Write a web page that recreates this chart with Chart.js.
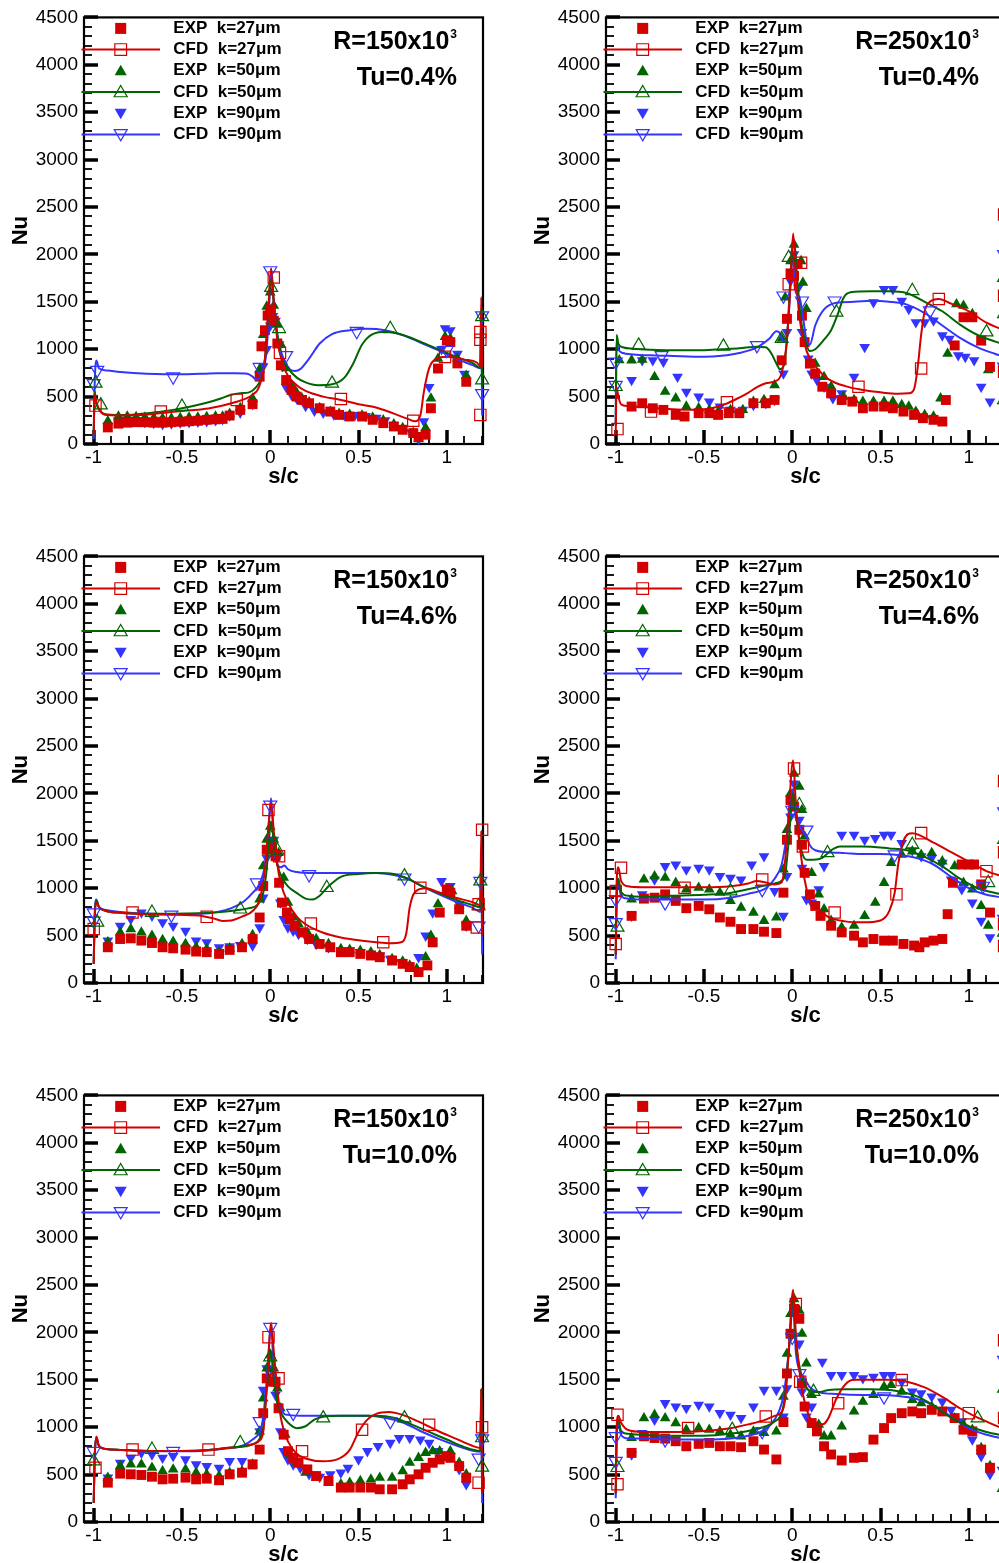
<!DOCTYPE html>
<html>
<head>
<meta charset="utf-8">
<script src="https://cdn.jsdelivr.net/npm/chart.js@4/dist/chart.umd.min.js"></script>
<style>
html,body{margin:0;padding:0;background:#fff;width:999px;height:1563px;overflow:hidden;position:relative;}
canvas{position:absolute;}
</style>
</head>
<body>
<canvas id="c1" width="500" height="490" style="left:0px;top:0px"></canvas>
<canvas id="c2" width="500" height="490" style="left:522px;top:0px"></canvas>
<canvas id="c3" width="500" height="490" style="left:0px;top:539px"></canvas>
<canvas id="c4" width="500" height="490" style="left:522px;top:539px"></canvas>
<canvas id="c5" width="500" height="490" style="left:0px;top:1078px"></canvas>
<canvas id="c6" width="500" height="490" style="left:522px;top:1078px"></canvas>
<script>
// ---------- tick labels / panel labels ----------
const xMajor = [-1, -0.5, 0, 0.5, 1];
const yMajor = [0, 500, 1000, 1500, 2000, 2500, 3000, 3500, 4000, 4500];
const panelR  = ['150', '250', '150', '250', '150', '250'];
const panelTu = ['0.4%', '0.4%', '4.6%', '4.6%', '10.0%', '10.0%'];
const seriesNames = ['EXP  k=27\u03bcm','CFD  k=27\u03bcm','EXP  k=50\u03bcm','CFD  k=50\u03bcm','EXP  k=90\u03bcm','CFD  k=90\u03bcm'];

// ---------- Panel 1: R=150x10^3, Tu=0.4% ----------
const P1_exp27 = [[-0.92,175],[-0.86,215],[-0.81,225],[-0.76,230],[-0.71,230],[-0.66,225],[-0.61,225],[-0.56,230],[-0.51,235],[-0.46,240],[-0.41,245],[-0.36,255],[-0.31,260],[-0.27,265],[-0.23,300],[-0.17,360],[-0.1,420],[-0.06,710],[-0.05,1030],[-0.03,1200],[-0.015,1355],[0.0,1420],[0.02,1300],[0.04,1060],[0.06,830],[0.09,675],[0.12,570],[0.15,500],[0.18,465],[0.22,430],[0.28,377],[0.34,342],[0.39,307],[0.45,290],[0.52,290],[0.58,255],[0.64,220],[0.7,185],[0.75,150],[0.81,115],[0.84,75],[0.88,98],[0.91,377],[0.95,796],[1.0,1092],[1.02,1075],[1.06,850],[1.11,656]];
const P1_exp50 = [[-0.92,240],[-0.86,290],[-0.81,290],[-0.76,285],[-0.71,280],[-0.66,275],[-0.61,270],[-0.56,270],[-0.51,275],[-0.46,280],[-0.41,280],[-0.36,285],[-0.31,290],[-0.27,290],[-0.23,320],[-0.17,380],[-0.1,480],[-0.06,790],[-0.04,1150],[-0.02,1450],[0.0,1600],[0.02,1460],[0.04,1260],[0.06,1050],[0.09,800],[0.12,620],[0.15,540],[0.18,480],[0.22,440],[0.28,380],[0.34,340],[0.39,320],[0.45,310],[0.52,300],[0.58,280],[0.64,250],[0.7,210],[0.75,170],[0.81,120],[0.84,50],[0.88,170],[0.91,480],[0.95,900],[0.99,1130],[1.02,1110],[1.06,900],[1.11,720]];
const P1_exp90 = [[-0.92,190],[-0.86,250],[-0.81,255],[-0.76,245],[-0.71,230],[-0.66,220],[-0.61,210],[-0.56,215],[-0.51,225],[-0.46,230],[-0.41,235],[-0.36,240],[-0.31,250],[-0.27,260],[-0.23,300],[-0.17,330],[-0.1,420],[-0.06,730],[-0.04,820],[-0.02,1000],[0.0,1250],[0.015,1350],[0.03,1300],[0.05,1050],[0.07,820],[0.09,600],[0.12,520],[0.15,480],[0.2,400],[0.25,350],[0.3,330],[0.36,310],[0.42,305],[0.48,305],[0.54,295],[0.6,275],[0.65,250],[0.7,200],[0.75,165],[0.8,120],[0.84,50],[0.87,240],[0.9,600],[0.97,1000],[0.99,1220],[1.02,1200],[1.06,950],[1.1,740]];
const P1_cfd27 = [[-1.0,100],[-0.995,520],[-0.985,440],[-0.96,340],[-0.92,305],[-0.85,300],[-0.75,305],[-0.65,320],[-0.55,340],[-0.45,355],[-0.35,375],[-0.28,400],[-0.2,440],[-0.15,470],[-0.1,520],[-0.06,620],[-0.03,900],[-0.012,1400],[0.005,1850],[0.02,1500],[0.04,1100],[0.07,850],[0.1,720],[0.15,620],[0.2,560],[0.3,500],[0.4,465],[0.5,420],[0.6,385],[0.7,320],[0.78,265],[0.82,240],[0.85,300],[0.87,550],[0.9,800],[0.94,900],[1.0,920],[1.1,890],[1.17,860],[1.19,820],[1.195,1550],[1.2,800]];
const P1_cfd50 = [[-1.0,100],[-0.995,560],[-0.985,430],[-0.96,340],[-0.92,310],[-0.85,305],[-0.75,315],[-0.65,335],[-0.55,360],[-0.45,395],[-0.35,440],[-0.28,480],[-0.22,520],[-0.17,535],[-0.12,545],[-0.08,600],[-0.05,700],[-0.03,900],[-0.012,1350],[0.005,1750],[0.02,1500],[0.04,1150],[0.07,900],[0.1,800],[0.15,700],[0.2,650],[0.27,620],[0.35,630],[0.42,700],[0.47,850],[0.52,1050],[0.58,1160],[0.66,1185],[0.75,1150],[0.85,1080],[0.95,1000],[1.05,920],[1.15,850],[1.19,800],[1.195,1400],[1.2,600]];
const P1_cfd90 = [[-1.0,50],[-0.995,600],[-0.985,880],[-0.97,800],[-0.92,775],[-0.85,760],[-0.7,740],[-0.6,735],[-0.5,735],[-0.4,740],[-0.3,745],[-0.2,745],[-0.13,740],[-0.1,710],[-0.08,680],[-0.06,690],[-0.04,780],[-0.02,1000],[-0.008,1400],[0.005,1850],[0.015,1600],[0.03,1300],[0.05,1050],[0.08,880],[0.11,790],[0.14,770],[0.17,790],[0.22,900],[0.28,1060],[0.35,1160],[0.45,1200],[0.55,1215],[0.65,1200],[0.75,1150],[0.85,1070],[0.95,990],[1.05,900],[1.15,830],[1.19,800],[1.195,1400],[1.2,300]];
const P1_mk27 = [[-0.99,405],[-0.62,342],[-0.19,465],[0.02,1757],[0.055,960],[0.4,475],[0.81,245],[0.99,919],[1.19,1181],[1.19,1100],[1.19,307]];
const P1_mk50 = [[-0.99,640],[-0.96,410],[-0.5,395],[0.005,1650],[0.05,1215],[0.35,640],[0.68,1215],[1.2,1340],[1.2,674]];
const P1_mk90 = [[-1.0,640],[-0.98,780],[-0.55,710],[-0.06,810],[0.0,1830],[0.09,935],[0.49,1190],[1.0,990],[1.2,1355],[1.2,535]];

// ---------- Panel 2: R=250x10^3, Tu=0.4% ----------
const P2_exp27 = [[-0.91,395],[-0.85,430],[-0.79,377],[-0.73,360],[-0.66,307],[-0.61,290],[-0.53,325],[-0.47,325],[-0.42,307],[-0.36,325],[-0.3,325],[-0.22,430],[-0.15,430],[-0.1,465],[-0.06,883],[-0.03,1320],[-0.01,1800],[0.01,1773],[0.03,1900],[0.055,1354],[0.07,1075],[0.1,848],[0.13,743],[0.17,604],[0.22,534],[0.28,464],[0.34,447],[0.4,377],[0.46,395],[0.52,395],[0.57,377],[0.63,342],[0.69,307],[0.74,272],[0.8,255],[0.85,237],[0.87,464],[0.92,1040],[0.97,1337],[1.02,1337],[1.07,1092],[1.12,813]];
const P2_exp50 = [[-0.98,884],[-0.91,883],[-0.85,890],[-0.78,708],[-0.72,551],[-0.66,482],[-0.6,395],[-0.53,377],[-0.47,360],[-0.42,342],[-0.35,360],[-0.28,360],[-0.22,447],[-0.16,464],[-0.1,621],[-0.06,1110],[-0.04,1546],[-0.01,1930],[0.01,2104],[0.05,1930],[0.06,1703],[0.08,1424],[0.13,848],[0.18,708],[0.22,604],[0.29,499],[0.35,464],[0.4,447],[0.46,447],[0.52,447],[0.57,447],[0.62,412],[0.66,395],[0.7,342],[0.75,307],[0.8,290],[0.84,482],[0.88,953],[0.93,1476],[0.97,1459],[1.02,1372],[1.07,1075],[1.11,778]];
const P2_exp90 = [[-0.91,674],[-0.85,883],[-0.79,883],[-0.73,866],[-0.65,708],[-0.6,551],[-0.53,499],[-0.47,447],[-0.41,395],[-0.35,360],[-0.28,360],[-0.22,412],[-0.15,430],[-0.1,464],[-0.05,743],[-0.03,1180],[-0.01,1720],[0.01,2000],[0.035,1650],[0.055,1180],[0.09,900],[0.11,743],[0.14,674],[0.18,604],[0.23,482],[0.28,534],[0.35,708],[0.41,1023],[0.46,1494],[0.52,1633],[0.57,1633],[0.62,1511],[0.66,1424],[0.7,1284],[0.75,1284],[0.8,1302],[0.85,1145],[0.89,1110],[0.94,935],[0.98,918],[1.03,883],[1.07,604],[1.12,447]];
const P2_cfd27 = [[-1.0,100],[-0.995,600],[-0.985,500],[-0.97,420],[-0.93,400],[-0.85,390],[-0.7,370],[-0.55,360],[-0.45,380],[-0.38,420],[-0.3,490],[-0.25,540],[-0.2,600],[-0.15,640],[-0.1,660],[-0.06,750],[-0.03,1100],[-0.01,1700],[0.005,2220],[0.02,1800],[0.04,1350],[0.07,1050],[0.1,900],[0.15,780],[0.2,690],[0.3,610],[0.4,570],[0.5,545],[0.6,530],[0.66,535],[0.69,580],[0.71,800],[0.73,1150],[0.75,1400],[0.78,1500],[0.83,1530],[0.9,1480],[1.0,1400],[1.1,1280],[1.2,1200]];
const P2_cfd50 = [[-1.0,200],[-0.995,1150],[-0.985,1060],[-0.96,1020],[-0.9,1005],[-0.8,995],[-0.7,990],[-0.5,990],[-0.4,1000],[-0.3,1010],[-0.2,1025],[-0.15,1020],[-0.12,960],[-0.09,850],[-0.07,790],[-0.05,820],[-0.03,1100],[-0.015,1600],[0.0,2050],[0.01,2150],[0.03,1700],[0.05,1300],[0.08,1050],[0.1,980],[0.13,1000],[0.18,1100],[0.22,1200],[0.26,1380],[0.29,1540],[0.33,1600],[0.45,1610],[0.55,1610],[0.65,1590],[0.75,1500],[0.85,1400],[0.95,1260],[1.05,1150],[1.15,1080],[1.2,1050]];
const P2_cfd90 = [[-1.0,200],[-0.995,1100],[-0.985,1000],[-0.96,960],[-0.9,945],[-0.8,935],[-0.7,930],[-0.5,920],[-0.4,930],[-0.3,960],[-0.2,1020],[-0.13,1110],[-0.09,1190],[-0.07,1170],[-0.05,1080],[-0.03,1150],[-0.015,1500],[0.0,2000],[0.02,1600],[0.04,1550],[0.06,1350],[0.08,1100],[0.1,1050],[0.13,1250],[0.18,1420],[0.25,1490],[0.35,1500],[0.45,1510],[0.55,1500],[0.65,1470],[0.75,1380],[0.85,1250],[0.95,1120],[1.05,1020],[1.15,950],[1.2,920]];
const P2_mk27 = [[-0.99,157],[-0.8,342],[-0.37,440],[-0.02,1686],[0.05,1912],[0.375,604],[0.73,796],[0.83,1529],[1.2,2421],[1.2,1565],[1.2,761]];
const P2_mk50 = [[-1.0,604],[-0.87,1040],[-0.39,1030],[-0.06,1110],[-0.02,1965],[0.25,1389],[0.68,1616],[1.1,1180],[1.2,1755],[1.2,1372],[1.2,464]];
const P2_mk90 = [[-1.0,866],[-1.0,621],[-0.74,935],[-0.2,1040],[-0.05,1564],[0.055,1511],[0.24,1511],[0.78,1406],[1.2,2000],[1.2,813]];

// ---------- Panel 3: R=150x10^3, Tu=4.6% ----------
const P3_exp27 = [[-0.92,377],[-0.85,464],[-0.79,471],[-0.73,447],[-0.67,422],[-0.61,377],[-0.55,366],[-0.48,352],[-0.42,332],[-0.36,325],[-0.29,307],[-0.23,349],[-0.16,377],[-0.1,464],[-0.06,691],[-0.04,1023],[-0.02,1406],[0.01,1424],[0.03,1337],[0.05,1057],[0.066,848],[0.094,743],[0.11,674],[0.14,604],[0.18,534],[0.22,464],[0.28,412],[0.34,377],[0.4,325],[0.45,325],[0.51,307],[0.57,290],[0.62,272],[0.69,237],[0.75,202],[0.79,168],[0.84,115],[0.89,185],[0.92,429],[0.96,743],[1.0,988],[1.02,953],[1.07,778],[1.11,604]];
const P3_exp50 = [[-0.92,430],[-0.85,534],[-0.79,569],[-0.73,534],[-0.67,499],[-0.61,454],[-0.55,436],[-0.48,412],[-0.42,377],[-0.36,360],[-0.29,325],[-0.23,366],[-0.16,412],[-0.1,506],[-0.06,883],[-0.04,1232],[-0.02,1511],[0.0,1650],[0.02,1511],[0.047,1372],[0.076,1110],[0.1,848],[0.13,691],[0.16,621],[0.21,534],[0.26,464],[0.33,412],[0.4,360],[0.45,352],[0.51,342],[0.57,325],[0.62,297],[0.69,255],[0.75,227],[0.79,185],[0.83,150],[0.88,272],[0.91,499],[0.95,831],[1.0,988],[1.03,970],[1.07,813],[1.11,656]];
const P3_exp90 = [[-0.92,447],[-0.85,604],[-0.79,674],[-0.73,743],[-0.67,708],[-0.61,639],[-0.55,604],[-0.48,551],[-0.42,447],[-0.36,430],[-0.29,377],[-0.23,387],[-0.17,401],[-0.1,395],[-0.06,586],[-0.04,900],[-0.02,1320],[0.0,1511],[0.02,1511],[0.04,1320],[0.057,848],[0.076,674],[0.1,586],[0.13,551],[0.16,517],[0.21,464],[0.26,412],[0.33,377],[0.4,342],[0.45,342],[0.51,325],[0.57,307],[0.62,290],[0.68,255],[0.74,220],[0.78,185],[0.84,272],[0.88,499],[0.92,743],[0.97,1075],[1.02,1023],[1.07,831],[1.11,604]];
const P3_cfd27 = [[-1.0,200],[-0.995,650],[-0.985,850],[-0.97,800],[-0.93,760],[-0.85,740],[-0.7,725],[-0.55,720],[-0.45,715],[-0.38,705],[-0.32,680],[-0.27,655],[-0.22,660],[-0.16,700],[-0.1,760],[-0.06,880],[-0.03,1200],[-0.012,1600],[0.005,1900],[0.02,1600],[0.04,1250],[0.06,1050],[0.1,850],[0.15,700],[0.2,620],[0.3,530],[0.4,480],[0.5,450],[0.6,430],[0.68,420],[0.74,430],[0.77,520],[0.79,800],[0.82,960],[0.88,1000],[0.95,960],[1.05,900],[1.15,850],[1.19,820],[1.195,1600],[1.2,500]];
const P3_cfd50 = [[-1.0,200],[-0.995,650],[-0.985,870],[-0.97,800],[-0.93,760],[-0.85,740],[-0.7,730],[-0.55,730],[-0.4,735],[-0.3,745],[-0.2,765],[-0.12,790],[-0.07,830],[-0.04,950],[-0.02,1200],[-0.008,1500],[0.005,1700],[0.02,1500],[0.04,1250],[0.07,1100],[0.1,1020],[0.15,950],[0.2,890],[0.24,880],[0.28,920],[0.33,1020],[0.4,1120],[0.5,1150],[0.6,1160],[0.7,1150],[0.78,1100],[0.85,1030],[0.95,950],[1.05,880],[1.15,820],[1.19,800],[1.195,1350],[1.2,500]];
const P3_cfd90 = [[-1.0,200],[-0.995,700],[-0.985,880],[-0.97,800],[-0.93,770],[-0.85,750],[-0.7,730],[-0.55,725],[-0.4,730],[-0.3,750],[-0.22,790],[-0.15,860],[-0.1,950],[-0.06,1050],[-0.03,1250],[-0.012,1600],[0.005,1950],[0.02,1450],[0.04,1250],[0.06,1220],[0.08,1240],[0.1,1200],[0.15,1170],[0.25,1160],[0.4,1160],[0.5,1160],[0.6,1160],[0.7,1140],[0.78,1100],[0.85,1030],[0.95,940],[1.05,860],[1.15,790],[1.19,750],[1.195,1400],[1.2,300]];
const P3_mk27 = [[-1.0,569],[-0.78,743],[-0.36,698],[-0.01,1825],[0.05,1337],[0.23,628],[0.64,430],[0.85,1005],[1.18,831],[1.2,1616],[1.17,586]];
const P3_mk50 = [[-0.98,639],[-0.67,743],[-0.17,778],[0.0,1546],[0.04,1400],[0.32,1005],[0.76,1127],[1.19,1075],[1.18,813]];
const P3_mk90 = [[-1.0,656],[-1.0,743],[-0.56,719],[-0.076,1058],[0.0,1878],[0.22,1145],[0.76,1110],[1.19,1075],[1.18,604]];

// ---------- Panel 4: R=250x10^3, Tu=4.6% ----------
const P4_exp27 = [[-0.91,708],[-0.84,890],[-0.78,900],[-0.72,935],[-0.66,866],[-0.6,789],[-0.53,813],[-0.47,778],[-0.41,691],[-0.35,646],[-0.29,569],[-0.22,569],[-0.16,541],[-0.09,527],[-0.05,953],[-0.03,1511],[-0.01,1930],[0.01,1860],[0.04,1616],[0.055,1459],[0.07,1162],[0.1,935],[0.13,813],[0.16,708],[0.22,604],[0.28,534],[0.35,499],[0.4,429],[0.46,464],[0.52,447],[0.57,447],[0.63,412],[0.69,395],[0.72,377],[0.75,429],[0.8,447],[0.85,464],[0.88,726],[0.91,1057],[0.96,1250],[1.0,1250],[1.03,1250],[1.07,1040],[1.12,743]];
const P4_exp50 = [[-0.91,883],[-0.84,1092],[-0.78,1127],[-0.72,1110],[-0.66,1057],[-0.6,988],[-0.53,1005],[-0.47,988],[-0.41,953],[-0.35,866],[-0.29,796],[-0.22,743],[-0.16,656],[-0.09,691],[-0.05,1197],[-0.03,1616],[-0.01,2000],[0.01,2209],[0.04,2070],[0.055,1825],[0.07,1546],[0.11,1162],[0.15,935],[0.18,778],[0.22,656],[0.28,586],[0.35,604],[0.41,708],[0.47,848],[0.52,1057],[0.56,1267],[0.62,1354],[0.68,1389],[0.73,1354],[0.79,1372],[0.85,1284],[0.92,1232],[0.97,1057],[1.02,988],[1.07,813],[1.11,604]];
const P4_exp90 = [[-0.91,708],[-0.85,935],[-0.78,1092],[-0.72,1232],[-0.66,1250],[-0.6,1197],[-0.53,1215],[-0.47,1197],[-0.41,1127],[-0.35,1110],[-0.29,1092],[-0.23,1250],[-0.16,1337],[-0.1,970],[-0.05,708],[-0.03,1127],[-0.01,1755],[0.01,2104],[0.04,1720],[0.055,1215],[0.08,883],[0.11,848],[0.15,988],[0.18,1232],[0.28,1564],[0.35,1564],[0.41,1511],[0.47,1529],[0.52,1564],[0.56,1564],[0.62,1476],[0.68,1400],[0.73,1337],[0.79,1320],[0.85,1267],[0.9,1092],[0.96,988],[1.02,848],[1.07,656],[1.12,482]];
const P4_cfd27 = [[-1.0,300],[-0.995,1050],[-0.985,1220],[-0.97,1080],[-0.93,1020],[-0.85,1010],[-0.7,1010],[-0.5,1010],[-0.35,1020],[-0.25,1050],[-0.2,1075],[-0.15,1060],[-0.1,1040],[-0.06,1060],[-0.04,1300],[-0.02,1800],[0.005,2350],[0.02,1900],[0.04,1500],[0.06,1200],[0.08,1000],[0.1,880],[0.15,780],[0.2,700],[0.3,650],[0.4,640],[0.5,660],[0.55,760],[0.58,950],[0.6,1250],[0.63,1500],[0.68,1580],[0.8,1480],[0.9,1380],[1.0,1280],[1.1,1180],[1.2,1120]];
const P4_cfd50 = [[-1.0,300],[-0.995,900],[-0.985,1100],[-0.97,960],[-0.93,920],[-0.85,910],[-0.7,920],[-0.5,930],[-0.35,950],[-0.25,990],[-0.15,1030],[-0.1,1050],[-0.06,1080],[-0.04,1150],[-0.02,1500],[0.005,2000],[0.02,1800],[0.04,1500],[0.06,1350],[0.08,1300],[0.12,1300],[0.17,1320],[0.22,1400],[0.27,1440],[0.4,1440],[0.55,1420],[0.65,1400],[0.75,1330],[0.85,1230],[0.95,1100],[1.05,1000],[1.15,950],[1.2,930]];
const P4_cfd90 = [[-1.0,250],[-0.995,850],[-0.985,1050],[-0.97,920],[-0.93,890],[-0.85,880],[-0.7,880],[-0.5,880],[-0.35,900],[-0.25,940],[-0.15,1000],[-0.1,1100],[-0.06,1250],[-0.04,1450],[-0.02,1700],[0.005,2050],[0.02,1750],[0.04,1650],[0.06,1600],[0.08,1550],[0.1,1450],[0.13,1400],[0.2,1380],[0.3,1370],[0.4,1360],[0.5,1360],[0.6,1350],[0.7,1320],[0.8,1250],[0.9,1120],[1.0,1000],[1.1,930],[1.2,900]];
const P4_mk27 = [[-1.0,412],[-1.0,970],[-0.97,1215],[-0.61,1005],[-0.17,1092],[0.01,2262],[0.06,1441],[0.24,743],[0.59,935],[0.73,1581],[1.1,1180],[1.2,2130],[1.2,1380],[1.2,620],[1.2,390]];
const P4_mk50 = [[-0.99,586],[-0.35,970],[0.04,1877],[0.2,1372],[0.68,1459],[1.11,1057],[1.2,1511],[1.2,534]];
const P4_mk90 = [[-1.0,883],[-1.0,639],[-0.72,848],[-0.17,988],[0.0,1825],[0.08,1616],[0.58,1354],[1.08,1023],[1.2,1808],[1.2,674]];

// ---------- Panel 5: R=150x10^3, Tu=10.0% ----------
const P5_exp27 = [[-0.92,415],[-0.85,510],[-0.79,503],[-0.73,496],[-0.67,478],[-0.61,450],[-0.55,457],[-0.48,468],[-0.42,450],[-0.36,457],[-0.29,440],[-0.23,503],[-0.16,520],[-0.1,607],[-0.06,764],[-0.04,1148],[-0.02,1515],[0.01,1480],[0.03,1480],[0.047,1200],[0.076,921],[0.1,747],[0.13,677],[0.16,625],[0.21,555],[0.26,485],[0.33,433],[0.4,363],[0.45,363],[0.51,363],[0.57,363],[0.62,345],[0.69,345],[0.75,398],[0.79,450],[0.84,503],[0.88,572],[0.92,625],[0.96,660],[1.0,695],[1.02,677],[1.07,590],[1.11,468]];
const P5_exp50 = [[-0.92,468],[-0.85,590],[-0.79,607],[-0.73,607],[-0.67,572],[-0.61,537],[-0.55,555],[-0.48,555],[-0.42,520],[-0.36,503],[-0.29,485],[-0.23,520],[-0.16,537],[-0.1,607],[-0.06,956],[-0.04,1305],[-0.02,1620],[0.0,1760],[0.02,1620],[0.04,1410],[0.057,1200],[0.085,921],[0.11,712],[0.15,625],[0.2,520],[0.26,468],[0.33,415],[0.4,398],[0.45,415],[0.51,433],[0.57,450],[0.62,468],[0.69,468],[0.75,537],[0.79,625],[0.84,677],[0.88,730],[0.92,747],[0.96,747],[1.02,747],[1.07,625],[1.11,503]];
const P5_exp90 = [[-0.92,468],[-0.85,625],[-0.79,677],[-0.73,730],[-0.67,712],[-0.61,677],[-0.55,695],[-0.48,660],[-0.42,607],[-0.36,590],[-0.29,572],[-0.23,642],[-0.16,642],[-0.1,625],[-0.06,956],[-0.04,1393],[-0.02,1620],[0.01,1602],[0.03,1340],[0.057,956],[0.076,747],[0.1,660],[0.13,607],[0.17,572],[0.22,503],[0.28,475],[0.34,503],[0.4,520],[0.44,572],[0.5,660],[0.55,747],[0.61,800],[0.68,834],[0.73,886],[0.79,886],[0.85,869],[0.9,834],[0.95,747],[1.02,695],[1.07,555],[1.11,398]];
const P5_cfd27 = [[-1.0,200],[-0.995,650],[-0.985,900],[-0.97,800],[-0.93,770],[-0.85,760],[-0.7,750],[-0.5,750],[-0.35,760],[-0.25,780],[-0.15,800],[-0.1,820],[-0.06,860],[-0.04,950],[-0.02,1400],[0.005,2100],[0.02,1800],[0.04,1400],[0.06,1100],[0.08,950],[0.1,850],[0.15,720],[0.2,670],[0.3,640],[0.38,660],[0.45,760],[0.5,950],[0.55,1080],[0.6,1140],[0.67,1160],[0.75,1130],[0.85,1050],[0.95,960],[1.05,880],[1.15,800],[1.19,780],[1.195,1400],[1.2,300]];
const P5_cfd50 = [[-1.0,200],[-0.995,650],[-0.985,900],[-0.97,800],[-0.93,770],[-0.85,760],[-0.7,750],[-0.5,750],[-0.35,760],[-0.25,780],[-0.15,800],[-0.1,820],[-0.06,880],[-0.04,1000],[-0.02,1400],[0.005,1750],[0.02,1500],[0.04,1250],[0.06,1150],[0.1,1050],[0.15,990],[0.2,1010],[0.25,1080],[0.3,1110],[0.4,1120],[0.5,1120],[0.6,1120],[0.7,1100],[0.8,1030],[0.9,950],[1.0,870],[1.1,790],[1.19,750],[1.195,1400],[1.2,300]];
const P5_cfd90 = [[-1.0,200],[-0.995,650],[-0.985,880],[-0.97,800],[-0.93,770],[-0.85,760],[-0.7,750],[-0.5,745],[-0.35,755],[-0.25,775],[-0.15,810],[-0.1,870],[-0.06,950],[-0.04,1100],[-0.02,1500],[0.005,2050],[0.02,1600],[0.04,1300],[0.06,1200],[0.08,1140],[0.1,1130],[0.2,1120],[0.4,1120],[0.55,1120],[0.65,1100],[0.75,1050],[0.85,960],[0.95,880],[1.05,810],[1.15,750],[1.19,740],[1.195,1300],[1.2,200]];
const P5_mk27 = [[-0.99,572],[-0.78,764],[-0.35,764],[-0.01,1950],[0.047,1515],[0.18,747],[0.52,973],[0.9,1026],[1.2,1000],[1.18,415]];
const P5_mk50 = [[-1.0,642],[-0.67,764],[-0.17,834],[0.0,1740],[0.3,1096],[0.76,1096],[1.2,886],[1.2,576]];
const P5_mk90 = [[-1.0,747],[-0.55,747],[-0.06,1061],[0.0,2055],[0.13,1148],[0.68,1061],[1.18,677],[1.2,880]];

// ---------- Panel 6: R=250x10^3, Tu=10.0% ----------
const P6_exp27 = [[-0.91,729],[-0.84,904],[-0.78,886],[-0.72,880],[-0.66,852],[-0.6,799],[-0.53,824],[-0.47,834],[-0.41,799],[-0.35,799],[-0.29,789],[-0.22,852],[-0.16,764],[-0.09,660],[-0.05,1054],[-0.03,1567],[-0.01,1986],[0.01,2248],[0.04,2143],[0.055,1462],[0.07,1218],[0.11,1044],[0.14,956],[0.18,799],[0.22,712],[0.28,649],[0.35,677],[0.4,684],[0.46,869],[0.52,991],[0.56,1096],[0.62,1148],[0.68,1166],[0.73,1148],[0.79,1183],[0.85,1166],[0.92,1096],[0.97,974],[1.02,956],[1.07,764],[1.12,572]];
const P6_exp50 = [[-0.91,886],[-0.84,1096],[-0.78,1131],[-0.72,1096],[-0.66,1044],[-0.6,974],[-0.53,991],[-0.47,974],[-0.41,956],[-0.35,921],[-0.29,904],[-0.22,956],[-0.16,939],[-0.09,956],[-0.05,1323],[-0.03,1776],[-0.01,2195],[0.01,2352],[0.04,2230],[0.055,1986],[0.08,1672],[0.11,1340],[0.15,1026],[0.18,904],[0.22,904],[0.28,1009],[0.35,1166],[0.4,1270],[0.46,1340],[0.52,1428],[0.56,1445],[0.62,1375],[0.68,1288],[0.73,1253],[0.79,1218],[0.85,1166],[0.92,1096],[0.97,1026],[1.02,974],[1.07,782],[1.12,590]];
const P6_exp90 = [[-0.91,712],[-0.85,939],[-0.78,1078],[-0.72,1253],[-0.66,1218],[-0.6,1201],[-0.53,1235],[-0.47,1218],[-0.41,1148],[-0.35,1131],[-0.29,1096],[-0.22,1218],[-0.16,1393],[-0.09,1393],[-0.05,1113],[-0.03,1410],[-0.01,1951],[0.01,2265],[0.04,1881],[0.055,1375],[0.08,1113],[0.11,1218],[0.17,1689],[0.22,1550],[0.28,1550],[0.35,1550],[0.4,1515],[0.46,1532],[0.52,1550],[0.56,1550],[0.62,1480],[0.68,1375],[0.73,1358],[0.79,1323],[0.85,1270],[0.9,1183],[0.96,1061],[1.02,869],[1.07,694],[1.12,503]];
const P6_cfd27 = [[-1.0,300],[-0.995,1000],[-0.985,1120],[-0.97,1050],[-0.93,970],[-0.85,950],[-0.7,950],[-0.5,960],[-0.35,990],[-0.25,1030],[-0.15,1080],[-0.1,1120],[-0.06,1160],[-0.04,1300],[-0.02,1800],[0.005,2450],[0.02,2000],[0.04,1600],[0.06,1350],[0.08,1200],[0.1,1100],[0.13,1050],[0.17,1030],[0.2,1080],[0.25,1300],[0.3,1450],[0.35,1500],[0.45,1500],[0.55,1500],[0.65,1480],[0.75,1420],[0.85,1320],[0.95,1200],[1.05,1100],[1.15,1020],[1.2,980]];
const P6_cfd50 = [[-1.0,300],[-0.995,900],[-0.985,1080],[-0.97,960],[-0.93,930],[-0.85,920],[-0.7,910],[-0.5,910],[-0.35,930],[-0.25,960],[-0.15,1010],[-0.1,1060],[-0.06,1150],[-0.04,1350],[-0.02,1800],[0.005,2350],[0.02,1900],[0.04,1650],[0.06,1500],[0.08,1420],[0.1,1380],[0.15,1370],[0.2,1390],[0.3,1400],[0.45,1400],[0.6,1380],[0.7,1330],[0.8,1230],[0.9,1100],[1.0,1010],[1.1,950],[1.2,910]];
const P6_cfd90 = [[-1.0,250],[-0.995,850],[-0.985,1050],[-0.97,920],[-0.93,880],[-0.85,880],[-0.7,870],[-0.5,870],[-0.35,880],[-0.25,910],[-0.15,980],[-0.1,1080],[-0.06,1250],[-0.04,1450],[-0.02,1800],[0.005,2280],[0.02,1800],[0.04,1600],[0.06,1540],[0.08,1480],[0.1,1420],[0.15,1370],[0.25,1350],[0.4,1340],[0.5,1340],[0.6,1330],[0.7,1300],[0.8,1230],[0.9,1110],[1.0,990],[1.1,920],[1.2,880]];
const P6_mk27 = [[-0.99,398],[-0.99,1131],[-0.59,991],[-0.15,1113],[0.02,2300],[0.045,1480],[0.26,1253],[0.62,1497],[1.0,1148],[1.2,1916],[1.2,1096]];
const P6_mk50 = [[-0.99,572],[-0.34,974],[0.12,1375],[1.05,1096],[1.2,1410],[1.2,363]];
const P6_mk90 = [[-1.0,904],[-1.0,642],[-0.72,869],[-0.17,956],[0.0,1951],[0.04,1567],[0.52,1323],[1.2,1707],[1.2,537]];

// ---------- styles ----------
const RED = '#d40000', GREEN = '#006400', BLUE = '#3434ff';
const colors = [RED, GREEN, BLUE];
const shapes = ['rect', 'up', 'down'];
const FONT = "'Liberation Sans', Arial, Helvetica, sans-serif";

const panels = [
  {id:'c1', exp:[P1_exp27,P1_exp50,P1_exp90], cfd:[P1_cfd27,P1_cfd50,P1_cfd90], mk:[P1_mk27,P1_mk50,P1_mk90]},
  {id:'c2', exp:[P2_exp27,P2_exp50,P2_exp90], cfd:[P2_cfd27,P2_cfd50,P2_cfd90], mk:[P2_mk27,P2_mk50,P2_mk90]},
  {id:'c3', exp:[P3_exp27,P3_exp50,P3_exp90], cfd:[P3_cfd27,P3_cfd50,P3_cfd90], mk:[P3_mk27,P3_mk50,P3_mk90]},
  {id:'c4', exp:[P4_exp27,P4_exp50,P4_exp90], cfd:[P4_cfd27,P4_cfd50,P4_cfd90], mk:[P4_mk27,P4_mk50,P4_mk90]},
  {id:'c5', exp:[P5_exp27,P5_exp50,P5_exp90], cfd:[P5_cfd27,P5_cfd50,P5_cfd90], mk:[P5_mk27,P5_mk50,P5_mk90]},
  {id:'c6', exp:[P6_exp27,P6_exp50,P6_exp90], cfd:[P6_cfd27,P6_cfd50,P6_cfd90], mk:[P6_mk27,P6_mk50,P6_mk90]}
];

const pts = a => a.map(p => ({x: p[0], y: p[1]}));

function drawShape(ctx, shape, x, y, r, color, filled) {
  ctx.beginPath();
  if (shape === 'rect') {
    const s = r * Math.SQRT1_2;
    ctx.rect(x - s, y - s, 2 * s, 2 * s);
  } else {
    const d = shape === 'down' ? -1 : 1;
    ctx.moveTo(x, y - d * r);
    ctx.lineTo(x + r * 0.866, y + d * r * 0.5);
    ctx.lineTo(x - r * 0.866, y + d * r * 0.5);
    ctx.closePath();
  }
  if (filled) { ctx.fillStyle = color; ctx.fill(); }
  else { ctx.strokeStyle = color; ctx.lineWidth = 1.2; ctx.stroke(); }
}

const decor = {
  id: 'decor',
  beforeDatasetsDraw(chart) {
    const {ctx, chartArea: {left, right, top, bottom}, scales: {x, y}} = chart;
    ctx.save();
    ctx.strokeStyle = '#000';
    ctx.lineCap = 'butt';
    for (let i = -10; i <= 12; i++) {
      const v = i / 10;
      const px = Math.round(x.getPixelForValue(v));
      const major = (i % 5 === 0);
      ctx.lineWidth = major ? 3.5 : 1.8;
      const len = major ? 14 : 8;
      ctx.beginPath(); ctx.moveTo(px, bottom); ctx.lineTo(px, bottom - len); ctx.stroke();
    }
    for (let v = 0; v <= 4500; v += 100) {
      const py = Math.round(y.getPixelForValue(v));
      const major = (v % 500 === 0);
      ctx.lineWidth = major ? 3.5 : 1.8;
      const len = major ? 14 : 8;
      ctx.beginPath(); ctx.moveTo(left, py); ctx.lineTo(left + len, py); ctx.stroke();
    }
    ctx.lineWidth = 2.2;
    ctx.strokeRect(left, top, right - left, bottom - top);
    ctx.restore();
  },
  afterDraw(chart, args, opts) {
    const {ctx, chartArea: {left, top}} = chart;
    ctx.save();
    // legend
    ctx.font = 'bold 17px ' + FONT;
    ctx.textBaseline = 'middle';
    ctx.textAlign = 'left';
    for (let i = 0; i < 6; i++) {
      const yy = top + 11 + i * 21.2;
      const k = Math.floor(i / 2);
      const isCFD = (i % 2 === 1);
      const mx = left + 36.7;
      if (isCFD) {
        ctx.strokeStyle = colors[k]; ctx.lineWidth = 2;
        ctx.beginPath(); ctx.moveTo(left - 2.5, yy); ctx.lineTo(left + 76, yy); ctx.stroke();
        drawShape(ctx, shapes[k], mx, yy + (k === 0 ? 0 : (k === 1 ? 1 : -1)), shapes[k] === 'rect' ? 8.3 : 7.5, colors[k], false);
      } else {
        drawShape(ctx, shapes[k], mx, yy + (k === 0 ? 0 : (k === 1 ? 1 : -1)), shapes[k] === 'rect' ? 7.8 : 7, colors[k], true);
      }
      ctx.fillStyle = '#000';
      ctx.fillText(seriesNames[i], left + 89.3, yy);
    }
    // panel labels
    const rx = 457;
    ctx.textBaseline = 'alphabetic';
    ctx.textAlign = 'left';
    ctx.font = 'bold 25px ' + FONT;
    const main = 'R=' + opts.R + 'x10';
    const w1 = ctx.measureText(main).width;
    ctx.font = 'bold 12px ' + FONT;
    const w2 = ctx.measureText('3').width;
    ctx.font = 'bold 25px ' + FONT;
    ctx.fillText(main, rx - w1 - w2 - 1, top + 32);
    ctx.font = 'bold 12px ' + FONT;
    ctx.fillText('3', rx - w2, top + 20.5);
    ctx.font = 'bold 25px ' + FONT;
    ctx.textAlign = 'right';
    ctx.fillText('Tu=' + opts.Tu, rx, top + 68);
    ctx.restore();
  }
};

panels.forEach((p, idx) => {
  const datasets = [];
  for (let k = 0; k < 3; k++) {
    datasets.push({
      label: 'CFDmk' + k, data: pts(p.mk[k]), showLine: false, order: 0, clip: false,
      pointStyle: shapes[k] === 'rect' ? 'rect' : 'triangle', rotation: shapes[k] === 'down' ? 180 : 0,
      pointRadius: shapes[k] === 'rect' ? 8 : 7.5, pointBackgroundColor: 'rgba(0,0,0,0)',
      pointBorderColor: colors[k], pointBorderWidth: 1.2
    });
  }
  for (let k = 0; k < 3; k++) {
    datasets.push({
      label: 'CFD' + k, data: pts(p.cfd[k]), showLine: true, order: 1, clip: false,
      borderColor: colors[k], borderWidth: 2, pointRadius: 0, cubicInterpolationMode: 'monotone', fill: false
    });
  }
  for (let k = 0; k < 3; k++) {
    datasets.push({
      label: 'EXP' + k, data: pts(p.exp[k]), showLine: false, order: 2, clip: false,
      pointStyle: shapes[k] === 'rect' ? 'rect' : 'triangle', rotation: shapes[k] === 'down' ? 180 : 0,
      pointRadius: shapes[k] === 'rect' ? 7 : 6.2, pointBackgroundColor: colors[k],
      pointBorderColor: colors[k], pointBorderWidth: 0
    });
  }
  new Chart(document.getElementById(p.id), {
    type: 'scatter',
    data: {datasets},
    plugins: [decor],
    options: {
      responsive: false, animation: false, devicePixelRatio: 1,
      layout: {padding: {top: 15, right: 17, left: 0, bottom: 0}},
      plugins: {legend: {display: false}, tooltip: {enabled: false}, decor: {R: panelR[idx], Tu: panelTu[idx]}},
      scales: {
        x: {
          type: 'linear', min: -1.055, max: 1.205,
          afterBuildTicks: s => { s.ticks = xMajor.map(v => ({value: v})); },
          afterFit: s => { s.height = 46; },
          grid: {display: false, drawTicks: false},
          border: {display: false},
          ticks: {color: '#000', font: {family: FONT, size: 19}, padding: 2, autoSkip: false, maxRotation: 0, callback: v => String(v)},
          title: {display: true, text: 's/c', color: '#000', font: {family: FONT, size: 22, weight: 'bold'}, padding: {top: 5, bottom: 0}}
        },
        y: {
          type: 'linear', min: 0, max: 4500,
          afterBuildTicks: s => { s.ticks = yMajor.map(v => ({value: v})); },
          afterFit: s => { s.width = 84; },
          grid: {display: false, drawTicks: false},
          border: {display: false},
          ticks: {color: '#000', font: {family: FONT, size: 19}, padding: 6, autoSkip: false, callback: v => String(v)},
          title: {display: true, text: 'Nu', color: '#000', font: {family: FONT, size: 22, weight: 'bold'}, padding: {top: 8, bottom: 0}}
        }
      }
    }
  });
});
</script>
</body>
</html>
